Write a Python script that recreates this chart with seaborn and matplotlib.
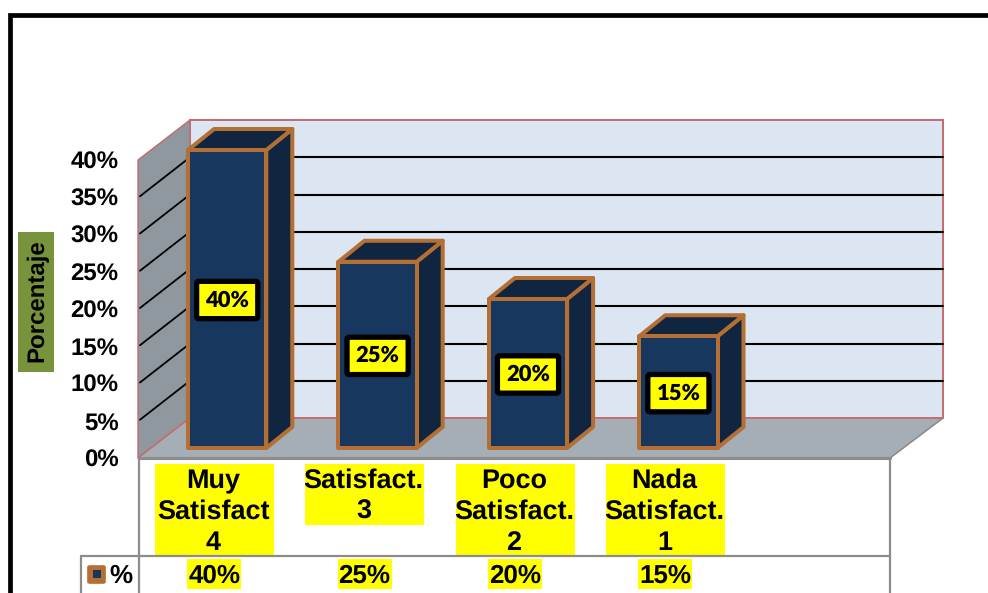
import matplotlib
matplotlib.use("Agg")
import matplotlib.pyplot as plt
import seaborn as sns
from matplotlib.patches import Polygon, Rectangle, FancyBboxPatch
from matplotlib.lines import Line2D
from matplotlib.transforms import Affine2D, IdentityTransform

categories = ["Muy\nSatisfact\n4", "Satisfact.\n3", "Poco\nSatisfact.\n2", "Nada\nSatisfact.\n1"]
values = [40, 25, 20, 15]
value_labels = ["40%", "25%", "20%", "15%"]
y_ticks = [0, 5, 10, 15, 20, 25, 30, 35, 40]
y_label = "Porcentaje"
legend_label = "%"

W, H = 988, 593
FRONT = "#17375e"
DARK = "#10253f"
EDGE = "#b46f35"
WALL = "#dce6f2"
RED = "#c4696c"
GREY = "#8c8c8c"

sns.set_theme(style="white")
plt.rcParams["font.family"] = ["Liberation Sans", "DejaVu Sans"]
plt.rcParams["text.hinting"] = "no_hinting"
plt.rcParams["text.hinting_factor"] = 1

fig = plt.figure(figsize=(W / 100, H / 100), dpi=100, facecolor="white")
ax = fig.add_axes([138 / W, (H - 458) / H, 752 / W, 298 / H])
ax.patch.set_alpha(0)

sns.barplot(x=categories, y=values, ax=ax, width=0.52, color=FRONT, saturation=1,
            edgecolor=EDGE, linewidth=2.9, zorder=5)
ax.set_xlim(-0.5, 4.5)
ax.set_ylim(0, 40)
sns.despine(ax=ax, left=True, bottom=True)
ax.set_yticks(y_ticks)
ax.set_yticklabels([f"{t}%" for t in y_ticks], fontsize=17.2, fontweight="bold", color="black")
ax.tick_params(axis="y", length=0, pad=14)
ax.tick_params(axis="x", length=0, pad=7.5)
ax.set_ylabel("")
ax.set_xticks(range(len(categories)))
ax.set_xticklabels(categories, fontsize=19.2, fontweight="bold", color="black",
                   linespacing=1.3, va="top", zorder=9)

ID = IdentityTransform()


def disp(y_px_from_top, x_px):
    return (x_px, H - y_px_from_top)


def poly(pts, **kw):
    ax.add_patch(Polygon([disp(y, x) for x, y in pts], closed=True, transform=ID,
                         clip_on=False, **kw))


def line(pts, **kw):
    ax.add_line(Line2D([p[0] for p in pts], [H - p[1] for p in pts], transform=ID,
                       clip_on=False, **kw))


# chart box: back wall, side wall, floor
DX, DY = 52, 40
poly([(190, 120), (943, 120), (943, 418), (190, 418)], facecolor=WALL, edgecolor=RED, lw=1.4, zorder=1)
poly([(138, 160), (190, 120), (190, 418), (138, 458)], facecolor="#8f979f", edgecolor=RED, lw=1.0, zorder=1.1)
poly([(138, 458), (190, 418), (943, 418), (890, 458)], facecolor="#a6aeb5", edgecolor="none", zorder=1.2)
line([(190, 418), (943, 418)], color=RED, lw=1.2, zorder=1.3)
line([(138, 458), (190, 418)], color=RED, lw=1.0, zorder=1.3)
line([(890, 458), (943, 418)], color=GREY, lw=1.2, zorder=1.3)

# gridlines run along the side wall and across the back wall
for t in y_ticks[1:-1]:
    _, yd = ax.transData.transform((0, t))
    y = H - yd
    line([(140, y - 1), (190, y - DY)], color="black", lw=1.3, zorder=2)
    line([(190, y - DY), (943, y - DY)], color="black", lw=1.5, zorder=2)

# bars: seaborn's front faces moved onto the floor, then side and top faces
off = Affine2D().translate(14, 10)
bars = [b for b in ax.patches if isinstance(b, Rectangle)]
for b in bars:
    b.set_transform(ax.transData + off)
    b.set_clip_on(False)
    b.set_joinstyle("round")

for b in bars:
    x0, x1 = b.get_x(), b.get_x() + b.get_width()
    h = b.get_height()
    (xl, yt) = (ax.transData + off).transform((x0, h))
    (xr, yb) = (ax.transData + off).transform((x1, 0))
    dx, dy = 26, 21
    ax.add_patch(Polygon([(xr, yb), (xr + dx, yb + dy), (xr + dx, yt + dy), (xr, yt)], closed=True,
                         transform=ID, facecolor=DARK, edgecolor=EDGE, lw=2.9, joinstyle="round",
                         clip_on=False, zorder=4))
    ax.add_patch(Polygon([(xl, yt), (xr, yt), (xr + dx, yt + dy), (xl + dx, yt + dy)], closed=True,
                         transform=ID, facecolor=DARK, edgecolor=EDGE, lw=2.9, joinstyle="round",
                         clip_on=False, zorder=4))

# data labels
label_off = off + Affine2D().translate(0, -1)
for i, (v, s) in enumerate(zip(values, value_labels)):
    ax.text(i, v / 2, s, transform=ax.transData + label_off, ha="center", va="center",
            fontsize=15.5, fontweight="heavy", family=["Lato", "DejaVu Sans"], color="black", zorder=7,
            bbox=dict(facecolor="#ffff00", edgecolor="black", linewidth=3.8,
                      boxstyle="round,pad=0.4,rounding_size=0.1"))

# yellow backing for the category labels
for i, c in enumerate(categories):
    px, _ = ax.transData.transform((i, 0))
    n = c.count("\n") + 1
    h_px = 61 if n == 2 else 91
    fig.add_artist(Rectangle(((px + 1 - 59.5) / W, (H - 464 - h_px) / H), 119 / W, h_px / H,
                             transform=fig.transFigure, facecolor="#ffff00", edgecolor="none", zorder=-1))

# data table
line([(139, 458), (890, 458)], color=GREY, lw=2.2, zorder=3)
line([(139, 458), (139, 593)], color=GREY, lw=1.6, zorder=3)
line([(890, 458), (890, 593)], color=GREY, lw=1.6, zorder=3)
line([(81, 556), (890, 556)], color=GREY, lw=1.6, zorder=3)
line([(81, 556), (81, 593)], color=GREY, lw=1.6, zorder=3)

for i, s in enumerate(value_labels):
    px, _ = ax.transData.transform((i, 0))
    fig.add_artist(Rectangle(((px + 1 - 27) / W, (H - 589) / H), 54 / W, 30 / H,
                             transform=fig.transFigure, facecolor="#ffff00", edgecolor="none", zorder=-1))
    fig.text((px + 1) / W, (H - 576) / H, s, ha="center", va="center", fontsize=18.8, fontweight="bold",
             color="black")

# legend key
fig.add_artist(FancyBboxPatch((88 / W, (H - 583) / H), 17 / W, 17 / H, transform=fig.transFigure,
                              boxstyle="round,pad=0,rounding_size=0.002", facecolor=EDGE, edgecolor=EDGE, lw=1.2))
fig.add_artist(Rectangle((93 / W, (H - 578) / H), 8 / W, 8 / H, transform=fig.transFigure,
                         facecolor=FRONT, edgecolor="none"))
fig.text(120.5 / W, (H - 576) / H, legend_label, ha="center", va="center", fontsize=18.8,
         fontweight="bold", color="black")

# y axis title
fig.add_artist(Rectangle((18 / W, (H - 372) / H), 36 / W, 140 / H, transform=fig.transFigure,
                         facecolor="#77933c", edgecolor="none"))
fig.text(37.5 / W, (H - 301) / H, y_label, rotation=90, ha="center", va="center",
         fontsize=17, fontweight="bold", color="black")

# outer frame
fig.add_artist(Line2D([10 / W, 10 / W, 1], [0, (H - 14.5) / H, (H - 14.5) / H], transform=fig.transFigure,
                      color="black", lw=3.4, solid_joinstyle="miter"))

fig.savefig("out.png", dpi=100)
